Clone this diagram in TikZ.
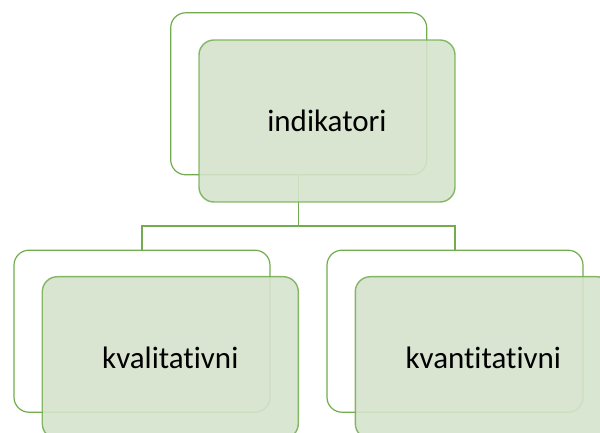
\documentclass[tikz,border=0pt]{standalone}
\usepackage{fontspec}
\setmainfont[Ligatures={NoCommon,NoRare,NoContextual}]{Carlito}
\definecolor{bord}{HTML}{72AC4E}
\definecolor{frontfill}{HTML}{D5E3CC}
\tikzset{
  backbox/.style={draw=bord, line width=1.2bp, fill=white, rounded corners=15bp,
    minimum width=256bp, minimum height=162bp, inner sep=0pt},
  frontbox/.style={draw=bord, draw opacity=0.85, line width=1.4bp, fill=frontfill, fill opacity=0.9,
    text opacity=1, rounded corners=15bp, minimum width=256bp, minimum height=162bp, inner sep=0pt,
    font=\fontsize{31bp}{37bp}\selectfont},
  conn/.style={draw=bord, line width=1.2bp}
}
\begin{document}
\begin{tikzpicture}[x=1bp,y=-1bp]
\useasboundingbox (0,0) rectangle (600,433);
\clip (0,0) rectangle (600,433);
\node[backbox] (tb) at (298.7,93.8) {};
\node[backbox] (lb) at (142,331.2) {};
\node[backbox] (rb) at (455,331.2) {};
\coordinate (mid) at (298.7,226);
\draw[conn] (tb.south) -- (mid);
\draw[conn] (lb.north) |- (mid) -| (rb.north);
\node[frontbox] (tf) at (327,121) {indikatori};
\node[frontbox] (lf) at (170.3,357.7) {kvalitativni};
\node[frontbox] (rf) at (483.3,357.7) {kvantitativni};
\end{tikzpicture}
\end{document}
